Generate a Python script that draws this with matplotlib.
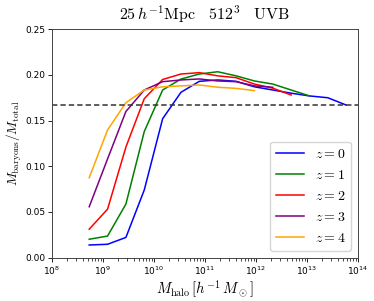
import matplotlib
matplotlib.use('Agg')
import matplotlib.pyplot as plt
import numpy as np

# log10 halo-mass bins (h^-1 Msun)
log_mass = [8.73, 9.09, 9.45, 9.81, 10.17, 10.53, 10.89, 11.25,
            11.61, 11.97, 12.33, 12.69, 13.05, 13.41, 13.77]

frac_z0 = [0.0137, 0.0145, 0.022, 0.074, 0.152, 0.181, 0.193, 0.1945,
           0.193, 0.187, 0.1835, 0.180, 0.177, 0.175, 0.167]
frac_z1 = [0.020, 0.0235, 0.0586, 0.138, 0.1835, 0.1955, 0.201, 0.2035,
           0.199, 0.1934, 0.190, 0.1835, 0.177]
frac_z2 = [0.031, 0.053, 0.121, 0.174, 0.195, 0.201, 0.2025, 0.199,
           0.197, 0.190, 0.1855, 0.178]
frac_z3 = [0.0556, 0.108, 0.160, 0.1835, 0.1926, 0.1945, 0.1956, 0.1934,
           0.1926, 0.188, 0.1865]
frac_z4 = [0.0874, 0.1397, 0.1696, 0.1835, 0.187, 0.188, 0.189, 0.1865,
           0.1853, 0.1828]

redshifts = [0, 1, 2, 3, 4]
colors = ['blue', 'green', 'red', 'purple', 'orange']
cosmic_fraction = 0.167

fig = plt.figure(figsize=(3.74, 3.01), dpi=100)
ax = fig.add_axes([0.139, 0.1445, 0.818, 0.7582])

for z, frac, c in zip(redshifts, [frac_z0, frac_z1, frac_z2, frac_z3, frac_z4], colors):
    m = 10 ** np.array(log_mass[:len(frac)])
    ax.plot(m, frac, color=c, lw=1.1, label=rf'$z={z}$')

ax.axhline(cosmic_fraction, color='#333333', ls='--', lw=1.1, dashes=(3.5, 2))

ax.set_xscale('log')
ax.set_xlim(1e8, 1e14)
ax.set_ylim(0, 0.25)
ax.set_yticks([0, 0.05, 0.10, 0.15, 0.20, 0.25])
ax.tick_params(labelsize=6.5, width=0.6, length=3, pad=2)
ax.tick_params(which='minor', width=0.5, length=1.8)
for s in ax.spines.values():
    s.set_linewidth(0.7)
    s.set_color('#444444')

ax.set_title(r'$25\,h^{-1}\mathrm{Mpc}\quad 512^3\quad \mathrm{UVB}$',
             fontsize=11.5, math_fontfamily='cm', pad=7)
ax.set_xlabel(r'$M_{\rm halo}\,[h^{-1}\,M_\odot]$', fontsize=10.5,
              math_fontfamily='cm', labelpad=1)
ax.set_ylabel(r'$M_{\rm baryons}/M_{\rm total}$', fontsize=9.5,
              math_fontfamily='cm', labelpad=0.5)

ax.legend(loc='lower right', prop={'math_fontfamily': 'cm', 'size': 10},
          borderaxespad=0.5)

fig.savefig('out.png', dpi=100)
